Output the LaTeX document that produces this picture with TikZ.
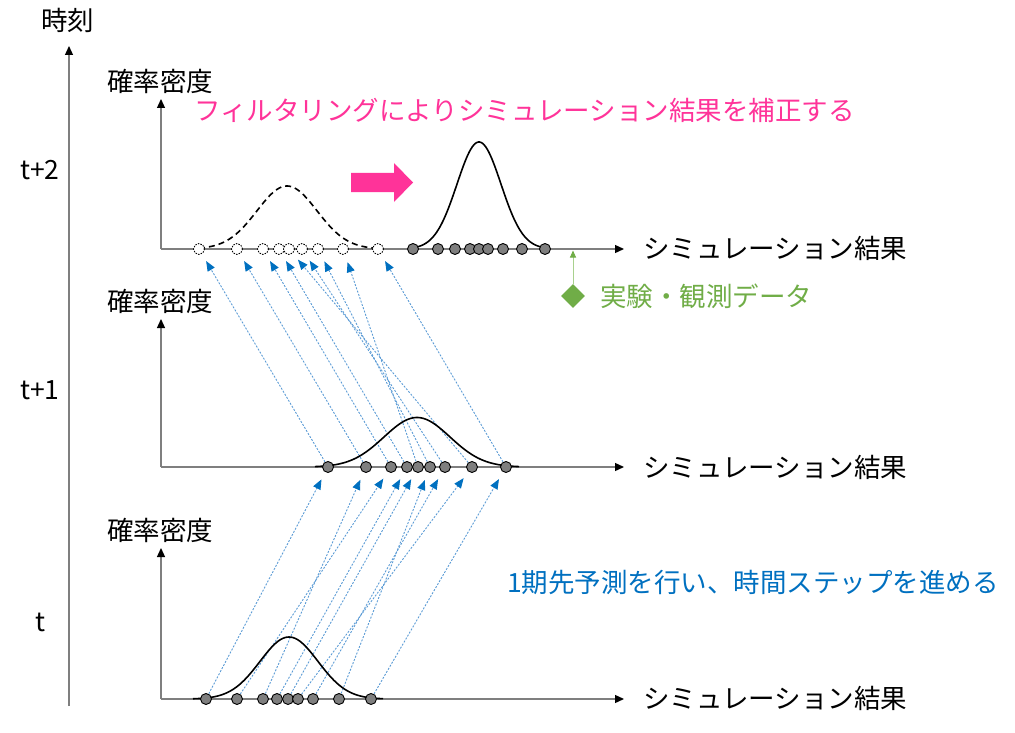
\documentclass[tikz,border=0pt]{standalone}
\usepackage{fontspec}
\setmainfont{Noto Sans CJK JP}
\usetikzlibrary{arrows.meta,shapes.geometric}
\definecolor{pinkc}{HTML}{FF3399}
\definecolor{greenc}{HTML}{70AD47}
\definecolor{greenl}{HTML}{A9D18E}
\definecolor{bluetext}{HTML}{0070C0}
\definecolor{bluel}{HTML}{5B9BD5}
\definecolor{ptgray}{HTML}{7F7F7F}
\definecolor{axisgray}{HTML}{7F7F7F}
\pgfdeclarelayer{bg}
\pgfsetlayers{bg,main}
\begin{document}
\begin{tikzpicture}[x=1pt,y=-1pt,
  lbl/.style={font=\fontsize{26.5}{30}\selectfont, inner sep=0pt},
  axisline/.style={draw=axisgray, line width=1.3pt, -{Triangle[length=9pt,width=8pt,color=black]}},
  ptc/.style={circle, draw=black, fill=ptgray, line width=0.9pt, minimum size=11pt, inner sep=0pt},
  dptc/.style={circle, draw=black, fill=white, dash pattern=on 1.5pt off 1.2pt, line width=0.9pt, minimum size=11pt, inner sep=0pt},
  pred/.style={draw=bluel, line width=0.9pt, dash pattern=on 2pt off 1.5pt, -{Triangle[length=10pt,width=8pt,color=bluetext]}, shorten >=8pt},
  gcurve/.style={draw=black, line width=1.6pt},
]
\useasboundingbox (0,0) rectangle (1015,733);

% time axis
\coordinate (t0) at (69,706);
\coordinate (t1) at (69,46);
\draw[axisline] (t0) -- (t1);
\node[lbl] (tlab) at (68,20) {時刻};
\node[lbl] (tt2) at (40,170) {t+2};
\node[lbl] (tt1) at (40,390) {t+1};
\node[lbl] (tt0) at (40,622) {t};

% row axes
\coordinate (o1) at (161,699); \coordinate (x1) at (624,699); \coordinate (y1) at (161,548);
\coordinate (o2) at (161,467); \coordinate (x2) at (624,467); \coordinate (y2) at (161,319);
\coordinate (o3) at (161,249); \coordinate (x3) at (624,249); \coordinate (y3) at (161,99);
\draw[axisline] (o1) -- (x1); \draw[axisline] (o1) -- (y1);
\draw[axisline] (o2) -- (x2); \draw[axisline] (o2) -- (y2);
\draw[axisline] (o3) -- (x3); \draw[axisline] (o3) -- (y3);

\node[lbl, anchor=west] (yl1) at (107,530) {確率密度};
\node[lbl, anchor=west] (yl2) at (107,301) {確率密度};
\node[lbl, anchor=west] (yl3) at (107,81) {確率密度};
\node[lbl, anchor=west] (xl1) at (643,698) {シミュレーション結果};
\node[lbl, anchor=west] (xl2) at (643,467) {シミュレーション結果};
\node[lbl, anchor=west] (xl3) at (643,248) {シミュレーション結果};

% curves
\draw[gcurve] plot[domain=193:383, samples=90] (\x, {699 - 62*exp(-0.5*pow((\x-289)/29,2))});
\draw[gcurve] plot[domain=315:519, samples=90] (\x, {467 - 49.5*exp(-0.5*pow((\x-417)/33,2))});
\draw[gcurve, dash pattern=on 6pt off 4pt] plot[domain=199:378, samples=90] (\x, {249 - 63*exp(-0.5*pow((\x-287)/30,2))});
\draw[gcurve] plot[domain=413:545, samples=90] (\x, {249 - 107*exp(-0.5*pow((\x-479)/22,2))});

% points
\foreach \i/\px in {1/206,2/237,3/263,4/277,5/288,6/298,7/313,8/339,9/371}
  \node[ptc] (b\i) at (\px,699) {};
\foreach \i/\px in {1/328,2/366,3/391,4/407,5/418,6/430,7/445,8/472,9/506}
  \node[ptc] (m\i) at (\px,467) {};
\foreach \i/\px in {1/199,2/237,3/263,4/279,5/289,6/302,7/318,8/343,9/378}
  \node[dptc] (d\i) at (\px,249) {};
\foreach \i/\px in {1/413,2/438,3/455,4/470,5/479,6/488,7/503,8/522,9/545}
  \node[ptc] (s\i) at (\px,249) {};

% prediction connectors
\begin{pgfonlayer}{bg}
\foreach \a/\b in {1/1,2/3,3/2,4/4,5/5,6/8,7/7,8/6,9/9}
  \draw[pred] (b\a) -- (m\b);
\foreach \a/\b in {1/1,2/2,3/3,4/4,5/8,6/7,7/6,8/5,9/9}
  \draw[pred] (m\a) -- (d\b);
\end{pgfonlayer}

% filtering arrow and text
\fill[pinkc] (351,173) -- (394,173) -- (394,163) -- (413,182.5) -- (394,202) -- (394,192) -- (351,192) -- cycle;
\node[lbl, anchor=west, text=pinkc] (ftext) at (194,110) {フィルタリングによりシミュレーション結果を補正する};

% observation
\node[diamond, fill=greenc, minimum width=24pt, minimum height=24pt, inner sep=0pt] (gd) at (573,296) {};
\coordinate (ga) at (573,250.5);
\draw[draw=greenl, line width=0.9pt, -{Triangle[length=7pt,width=6pt,color=greenc]}] (gd) -- (ga);
\node[lbl, anchor=west, text=greenc] (gtext) at (600,296) {実験・観測データ};

% prediction text
\node[lbl, anchor=west, text=bluetext] (ptext) at (507,582) {1期先予測を行い、時間ステップを進める};
\end{tikzpicture}
\end{document}
